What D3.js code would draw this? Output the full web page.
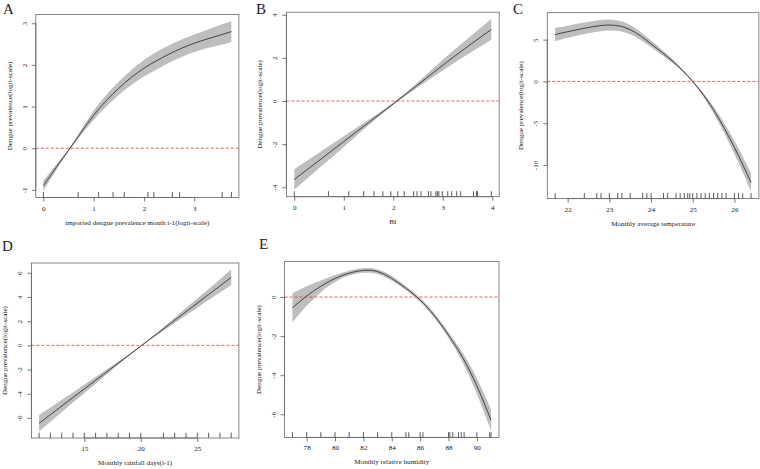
<!DOCTYPE html>
<html><head><meta charset="utf-8">
<script src="https://cdn.jsdelivr.net/npm/d3@7"></script>
<style>
html,body{margin:0;padding:0;background:#fff;}
svg{display:block;}
text{font-family:"Liberation Serif","DejaVu Serif",serif;fill:#222;}
</style></head>
<body>
<svg id="chart" width="760" height="469"></svg>
<script>
// ---------- data ----------
const yTitle = "Dengue prevalence(logit-scale)";

// Panel A: imported dengue prevalence month i-1 (logit-scale)
const aX   = [0, 0.25, 0.5, 0.75, 1.0, 1.25, 1.5, 1.75, 2.0, 2.25, 2.5, 2.75, 3.0, 3.25, 3.5, 3.738];
const aFit = [-0.9, -0.47, -0.05, 0.38, 0.79, 1.14, 1.44, 1.7, 1.92, 2.1, 2.26, 2.4, 2.52, 2.62, 2.71, 2.8];
const aSe  = [0.12, 0.07, 0.03, 0.06, 0.11, 0.14, 0.16, 0.18, 0.2, 0.21, 0.21, 0.21, 0.21, 0.22, 0.24, 0.25];
const aRug = [0, 0.693, 1.099, 1.386, 1.609, 2.079, 2.197, 2.565, 2.708, 3.555, 3.738];
const aXTicks = [0, 1, 2, 3];
const aYTicks = [-1, 0, 1, 2, 3];

// Panel B: BI
const bX   = [0, 0.5, 1.0, 1.5, 2.0, 2.5, 3.0, 3.5, 3.98];
const bFit = [-3.64, -2.76, -1.88, -1.0, -0.13, 0.76, 1.66, 2.52, 3.32];
const bSe  = [0.48, 0.36, 0.25, 0.13, 0.05, 0.12, 0.25, 0.37, 0.48];
const bRug = [0, 0.69, 1.10, 1.40, 1.61, 1.79, 1.95, 2.09, 2.22, 2.41, 2.48, 2.56, 2.71, 2.76, 2.86, 2.89, 2.92, 2.99, 3.10, 3.18, 3.28, 3.36, 3.62, 3.68, 3.70, 3.98];
const bXTicks = [0, 1, 2, 3, 4];
const bYTicks = [-4, -2, 0, 2, 4];

// Panel C: Monthly average temperature
const cX   = [21.7, 22, 22.5, 23, 23.5, 24, 24.5, 25, 25.5, 26, 26.4];
const cFit = [5.6, 5.95, 6.45, 6.75, 6.2, 4.5, 2.5, 0, -3.4, -7.9, -12.1];
const cSe  = [0.8, 0.72, 0.68, 0.65, 0.55, 0.4, 0.25, 0.12, 0.4, 0.8, 1.1];
const cRug = [21.7, 22.4, 22.7, 22.8, 23.0, 23.2, 23.3, 23.5, 23.8, 23.9, 24.0, 24.3, 24.4, 24.6, 24.7, 24.8, 24.88, 24.93, 25.0, 25.1, 25.2, 25.3, 25.4, 25.5, 25.6, 25.7, 25.8, 26.0, 26.1, 26.2, 26.4];
const cXTicks = [22, 23, 24, 25, 26];
const cYTicks = [-10, -5, 0, 5];

// Panel D: Monthly rainfall days(i-1)
const dX   = [11, 14, 17, 20, 23, 26, 28];
const dFit = [-6.44, -4.31, -2.18, -0.06, 2.07, 4.2, 5.62];
const dSe  = [0.68, 0.42, 0.2, 0.05, 0.22, 0.45, 0.65];
const dRug = [11, 12, 13, 14, 15, 16, 17, 18, 19, 20, 22, 23, 24, 25, 26, 27, 28];
const dXTicks = [15, 20, 25];
const dYTicks = [-6, -4, -2, 0, 2, 4, 6];

// Panel E: Monthly relative humidity
const eX   = [77, 78, 79, 80, 81, 82, 83, 84, 85, 86, 87, 88, 89, 90, 91];
const eFit = [-0.55, 0.05, 0.55, 0.95, 1.22, 1.36, 1.3, 0.95, 0.45, -0.15, -0.95, -1.95, -3.1, -4.55, -6.3];
const eSe  = [0.74, 0.5, 0.3, 0.18, 0.12, 0.12, 0.12, 0.12, 0.1, 0.1, 0.12, 0.15, 0.25, 0.4, 0.55];
const eRug = [77, 78, 79, 80, 81, 82, 83, 84, 85, 85.2, 86, 86.2, 88, 88.1, 88.3, 88.7, 88.9, 89.1, 90, 90.9, 91];
const eXTicks = [78, 80, 82, 84, 86, 88, 90];
const eYTicks = [-6, -4, -2, 0];

const letters = ["A", "B", "C", "D", "E"];
const xTitles = ["imported dengue prevalence month i-1(logit-scale)", "BI", "Monthly average temperature", "Monthly rainfall days(i-1)", "Monthly relative humidity"];

// ---------- layout ----------
const frames = [
  {l: 35.8, t: 14.4, r: 238.9, b: 197.5, lx: 3,   ly: 14},
  {l: 286.4, t: 12.2, r: 499.2, b: 196.7, lx: 256, ly: 14},
  {l: 547.3, t: 12.7, r: 758.9, b: 198.6, lx: 513, ly: 14},
  {l: 31.4, t: 263, r: 238.9, b: 438, lx: 2,   ly: 251},
  {l: 284.5, t: 261.6, r: 499, b: 437.4, lx: 259, ly: 249}
];

const panels = [
  {x: aX, fit: aFit, se: aSe, rug: aRug, xt: aXTicks, yt: aYTicks},
  {x: bX, fit: bFit, se: bSe, rug: bRug, xt: bXTicks, yt: bYTicks},
  {x: cX, fit: cFit, se: cSe, rug: cRug, xt: cXTicks, yt: cYTicks},
  {x: dX, fit: dFit, se: dSe, rug: dRug, xt: dXTicks, yt: dYTicks},
  {x: eX, fit: eFit, se: eSe, rug: eRug, xt: eXTicks, yt: eYTicks}
];

const svg = d3.select("#chart");
const fmt = d => String(d);
const FS = 7.1;

panels.forEach((p, i) => {
  const f = frames[i];
  const pts = p.x.map((x, k) => ({x, y: p.fit[k], lo: p.fit[k] - p.se[k], hi: p.fit[k] + p.se[k]}));
  const xe = d3.extent(p.x.concat(p.rug));
  const ye = [d3.min(pts, d => d.lo), d3.max(pts, d => d.hi)];
  const xp = (xe[1] - xe[0]) * 0.04, yp = (ye[1] - ye[0]) * 0.04;
  const xs = d3.scaleLinear().domain([xe[0] - xp, xe[1] + xp]).range([f.l, f.r]);
  const ys = d3.scaleLinear().domain([ye[0] - yp, ye[1] + yp]).range([f.b, f.t]);

  const g = svg.append("g");
  const clipId = "clip" + i;
  g.append("clipPath").attr("id", clipId).append("rect")
    .attr("x", f.l).attr("y", f.t).attr("width", f.r - f.l).attr("height", f.b - f.t);
  const inner = g.append("g").attr("clip-path", `url(#${clipId})`);

  inner.append("path").datum(pts)
    .attr("d", d3.area().x(d => xs(d.x)).y0(d => ys(d.lo)).y1(d => ys(d.hi)).curve(d3.curveNatural))
    .attr("fill", "#bebebe").attr("stroke", "none");
  inner.append("path").datum(pts)
    .attr("d", d3.line().x(d => xs(d.x)).y(d => ys(d.y)).curve(d3.curveNatural))
    .attr("fill", "none").attr("stroke", "#222").attr("stroke-width", 0.8);
  inner.append("line")
    .attr("x1", f.l).attr("x2", f.r).attr("y1", ys(0)).attr("y2", ys(0))
    .attr("stroke", "#e0393e").attr("stroke-width", 0.8).attr("stroke-dasharray", "3,2");

  // rug
  const rugLen = (f.b - f.t) * 0.03;
  g.append("g").selectAll("line").data(p.rug).join("line")
    .attr("x1", d => xs(d)).attr("x2", d => xs(d))
    .attr("y1", f.b).attr("y2", f.b - rugLen)
    .attr("stroke", "#333").attr("stroke-width", 0.8);

  // frame
  g.append("rect").attr("x", f.l).attr("y", f.t).attr("width", f.r - f.l).attr("height", f.b - f.t)
    .attr("fill", "none").attr("stroke", "#666").attr("stroke-width", 0.8);

  // x axis
  const xa = g.append("g").attr("transform", `translate(0,${f.b})`)
    .call(d3.axisBottom(xs).tickValues(p.xt).tickFormat(fmt).tickSize(4).tickPadding(4));
  xa.select(".domain").attr("stroke", "#666").attr("stroke-width", 0.8)
    .attr("d", `M${xs(p.xt[0])},0H${xs(p.xt[p.xt.length - 1])}`);
  xa.selectAll(".tick line").attr("stroke", "#555").attr("stroke-width", 0.8);
  xa.selectAll(".tick text").attr("font-size", FS).attr("font-family", "Liberation Serif").attr("fill", "#222");

  // y axis
  const ya = g.append("g").attr("transform", `translate(${f.l},0)`)
    .call(d3.axisLeft(ys).tickValues(p.yt).tickFormat(fmt).tickSize(4).tickPadding(4));
  ya.select(".domain").attr("stroke", "#666").attr("stroke-width", 0.8)
    .attr("d", `M0,${ys(p.yt[0])}V${ys(p.yt[p.yt.length - 1])}`);
  ya.selectAll(".tick line").attr("stroke", "#555").attr("stroke-width", 0.8);
  ya.selectAll(".tick text")
    .attr("x", null).attr("dy", null)
    .attr("font-size", FS).attr("font-family", "Liberation Serif").attr("fill", "#222")
    .attr("text-anchor", "middle").attr("dominant-baseline", "central")
    .attr("transform", "translate(-11,0) rotate(-90)");

  // titles
  g.append("text").attr("x", (f.l + f.r) / 2).attr("y", f.b + 25)
    .attr("text-anchor", "middle").attr("dominant-baseline", "central")
    .attr("font-size", FS).text(xTitles[i]);
  g.append("text")
    .attr("transform", `translate(${f.l - 26},${(f.t + f.b) / 2}) rotate(-90)`)
    .attr("text-anchor", "middle").attr("dominant-baseline", "central")
    .attr("font-size", FS).text(yTitle);
  g.append("text").attr("x", f.lx).attr("y", f.ly)
    .attr("font-size", 15).attr("fill", "#111").text(letters[i]);
});
</script>
</body></html>
